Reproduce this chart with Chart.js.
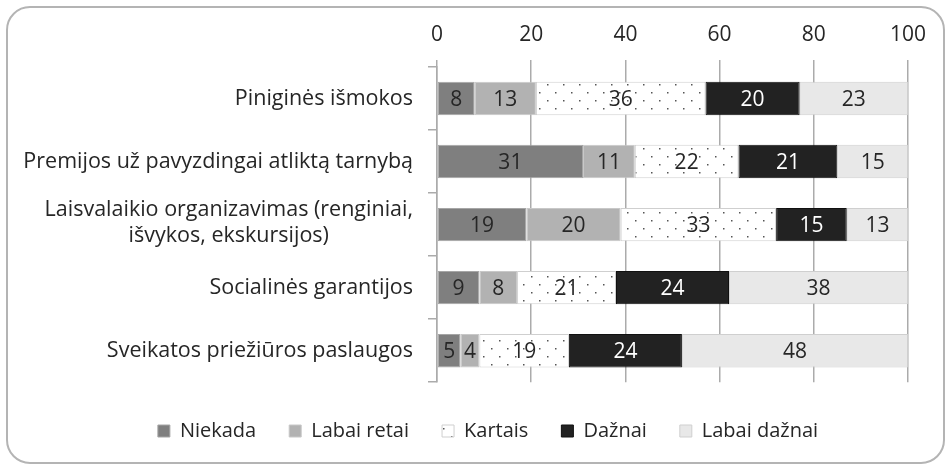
<!DOCTYPE html>
<html>
<head>
<meta charset="utf-8">
<script src="https://cdn.jsdelivr.net/npm/chart.js@4.4.1/dist/chart.umd.min.js"></script>
<style>
    html, body { margin: 0; padding: 0; background: #FFFFFF; }
    #frame {
        position: absolute; left: 6px; top: 6px;
        width: 939px; height: 458px;
        box-sizing: border-box;
        border: 2px solid #B4B4B4;
        border-radius: 24px;
    }
    #wrap { position: absolute; left: 0; top: 0; width: 947px; height: 466px; }
</style>
</head>
<body>
<div id="frame"></div>
<div id="wrap"><canvas id="surveyChart"></canvas></div>
<script>
// ==========================================
// Paskatos - stacked bar
// ==========================================

const categories = [
    ["Piniginės išmokos"],
    ["Premijos už pavyzdingai atliktą tarnybą"],
    ["Laisvalaikio organizavimas (renginiai,", "išvykos, ekskursijos)"],
    ["Socialinės garantijos"],
    ["Sveikatos priežiūros paslaugos"]
];

const seriesNames = ["Niekada", "Labai retai", "Kartais", "Dažnai", "Labai dažnai"];

const niekada = [8, 31, 19, 9, 5];
const labaiRetai = [13, 11, 20, 8, 4];
const kartais = [36, 22, 33, 21, 19];
const daznai = [20, 21, 15, 24, 24];
const labaiDaznai = [23, 15, 13, 38, 48];

const xTicks = [0, 20, 40, 60, 80, 100];

const FONT = "'Open Sans', 'Noto Sans', sans-serif";

// dotted fill for "Kartais"
function dotPattern() {
    const c = document.createElement("canvas");
    c.width = 16;
    c.height = 16;
    const g = c.getContext("2d");
    g.fillStyle = "#FFFFFF";
    g.fillRect(0, 0, 16, 16);
    g.fillStyle = "#555555";
    g.fillRect(3, 4, 1.5, 1.5);
    g.fillRect(11, 12, 1.5, 1.5);
    return g.createPattern(c, "repeat");
}

// numbers inside the bars
const barLabels = {
    id: "barLabels",
    afterDatasetsDraw(chart) {
        const ctx = chart.ctx;
        ctx.save();
        ctx.font = "21px " + FONT;
        ctx.textAlign = "center";
        ctx.textBaseline = "middle";
        chart.data.datasets.forEach((ds, i) => {
            const meta = chart.getDatasetMeta(i);
            meta.data.forEach((bar, j) => {
                const p = bar.getProps(["x", "y", "base"], true);
                ctx.fillStyle = i === 3 ? "#FFFFFF" : "#262626";
                ctx.fillText(ds.data[j], (p.x + p.base) / 2, p.y + 1);
            });
        });
        ctx.restore();
    }
};

// category names, right aligned, wrapped lines centred
const categoryLabels = {
    id: "categoryLabels",
    afterDraw(chart) {
        const ctx = chart.ctx;
        const yScale = chart.scales.y;
        const right = chart.chartArea.left - 24;
        ctx.save();
        ctx.font = "21.5px " + FONT;
        ctx.fillStyle = "#262626";
        ctx.textBaseline = "middle";
        categories.forEach((lines, i) => {
            const yc = yScale.getPixelForValue(i);
            const lh = 26;
            if (lines.length === 1) {
                ctx.textAlign = "right";
                ctx.fillText(lines[0], right, yc);
            } else {
                const w = Math.max(...lines.map(l => ctx.measureText(l).width));
                ctx.textAlign = "center";
                lines.forEach((l, k) => {
                    ctx.fillText(l, right - w / 2, yc - 2 + (k - (lines.length - 1) / 2) * lh);
                });
            }
        });
        ctx.restore();
    }
};

const surveyChart = new Chart(
    document.getElementById("surveyChart"),
    {
        type: "bar",

        data: {
            labels: categories,
            datasets: [
                { label: seriesNames[0], data: niekada, backgroundColor: "#7F7F7F", borderColor: "#A6A6A6" },
                { label: seriesNames[1], data: labaiRetai, backgroundColor: "#B2B2B2", borderColor: "#C8C8C8" },
                { label: seriesNames[2], data: kartais, backgroundColor: dotPattern(), borderColor: "#CFCFCF" },
                { label: seriesNames[3], data: daznai, backgroundColor: "#222222", borderColor: "#111111" },
                { label: seriesNames[4], data: labaiDaznai, backgroundColor: "#E8E8E8", borderColor: "#CFCFCF" }
            ].map(d => Object.assign(d, {
                borderWidth: 1,
                borderSkipped: false,
                categoryPercentage: 1,
                barPercentage: 0.53
            }))
        },

        options: {
            indexAxis: "y",
            responsive: true,
            maintainAspectRatio: false,
            animation: false,
            devicePixelRatio: 1,

            layout: {
                padding: { left: 68, right: 39, top: 0, bottom: 15 }
            },

            plugins: {
                legend: {
                    position: "bottom",
                    title: {
                        display: true,
                        text: "",
                        font: { size: 4 },
                        padding: 0.5
                    },
                    labels: {
                        boxWidth: 12,
                        boxHeight: 12,
                        padding: 33,
                        color: "#262626",
                        font: { family: FONT, size: 20 }
                    }
                },
                tooltip: { enabled: false }
            },

            scales: {
                x: {
                    position: "top",
                    stacked: true,
                    min: 0,
                    max: 100,
                    afterBuildTicks(scale) {
                        scale.ticks = xTicks.map(v => ({ value: v }));
                    },
                    afterFit(scale) {
                        scale.height = 67;
                    },
                    ticks: {
                        color: "#262626",
                        padding: 12,
                        font: { family: FONT, size: 21 }
                    },
                    grid: {
                        color: "#ABABAB",
                        lineWidth: 1.5,
                        tickLength: 7
                    },
                    border: { display: false }
                },

                y: {
                    stacked: true,
                    afterFit(scale) {
                        scale.width = 369;
                    },
                    ticks: { display: false },
                    grid: {
                        color: "#ABABAB",
                        lineWidth: 1.5,
                        drawOnChartArea: false,
                        tickLength: 9,
                        offset: true
                    },
                    border: { display: true, color: "#ABABAB", width: 1.5 }
                }
            }
        },

        plugins: [barLabels, categoryLabels]
    }
);
</script>
</body>
</html>
